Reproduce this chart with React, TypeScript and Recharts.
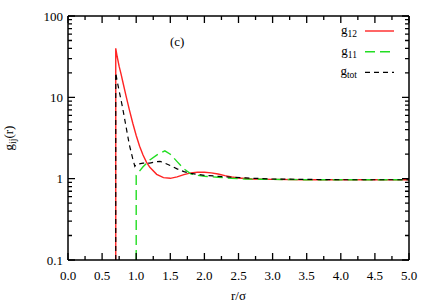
import { Legend, Line, LineChart, ReferenceDot, XAxis, YAxis } from "recharts";

// g12 (red)
const g12R = [0.7, 0.7, 0.72, 0.75, 0.78, 0.8, 0.85, 0.9, 0.95, 1.0, 1.05, 1.1, 1.15, 1.2, 1.3, 1.4, 1.5, 1.6, 1.7, 1.8, 1.9, 2.0, 2.1, 2.2, 2.3, 2.4, 2.5, 2.7, 3.0, 3.5, 4.0, 4.5, 5.0];
const g12V = [0.1, 40, 32, 24, 19, 16, 10.5, 7.0, 4.8, 3.4, 2.5, 1.95, 1.6, 1.38, 1.13, 1.03, 1.01, 1.05, 1.12, 1.18, 1.2, 1.2, 1.18, 1.14, 1.09, 1.05, 1.02, 0.99, 0.98, 0.97, 0.97, 0.97, 0.97];

// g11 (green)
const g11R = [1.0, 1.0, 1.1, 1.2, 1.3, 1.42, 1.5, 1.6, 1.7, 1.8, 1.9, 2.0, 2.2, 2.4, 2.6, 3.0, 3.5, 4.0, 4.5, 5.0];
const g11V = [0.1, 1.1, 1.4, 1.7, 1.95, 2.2, 2.0, 1.62, 1.32, 1.15, 1.1, 1.07, 1.04, 1.01, 0.99, 0.98, 0.97, 0.97, 0.97, 0.97];

// gtot (black)
const gtotR = [0.7, 0.7, 0.72, 0.75, 0.8, 0.85, 0.9, 0.95, 0.98, 1.0, 1.1, 1.2, 1.3, 1.35, 1.4, 1.5, 1.6, 1.7, 1.8, 2.0, 2.2, 2.4, 2.6, 3.0, 3.5, 4.0, 4.5, 5.0];
const gtotV = [0.1, 20, 16, 12, 7.5, 4.4, 2.6, 1.75, 1.42, 1.5, 1.55, 1.55, 1.62, 1.63, 1.58, 1.45, 1.32, 1.22, 1.16, 1.1, 1.07, 1.04, 1.02, 0.99, 0.98, 0.97, 0.97, 0.97];

const xMajor = [0, 0.5, 1, 1.5, 2, 2.5, 3, 3.5, 4, 4.5, 5];
const xMinor = [0.25, 0.75, 1.25, 1.75, 2.25, 2.75, 3.25, 3.75, 4.25, 4.75];
const yMajor = [0.1, 1, 10, 100];
const yMajorLabels = ["0.1", "1", "10", "100"];
const yMinor = [0.2, 0.3, 0.4, 0.5, 0.6, 0.7, 0.8, 0.9, 2, 3, 4, 5, 6, 7, 8, 9, 20, 30, 40, 50, 60, 70, 80, 90];

const FONT = "'Liberation Serif', 'DejaVu Serif', serif";
const W = 436;
const H = 305;
const M = { top: 15, right: 26, left: 0, bottom: 0 };
const Y_AXIS_W = 68;
const X_AXIS_H = 45;
// plot box size (the mirrored axes are 1px each)
const PLOT_H = H - M.top - 1 - X_AXIS_H;
const PLOT_W = W - M.right - 1 - Y_AXIS_W;

const toPoints = (r: number[], g: number[]) => r.map((x, i) => ({ r: x, g: g[i] }));

const series = [
  { key: "g12", sub: "12", color: "#ff2424", dash: undefined as string | undefined, width: 1.4, data: toPoints(g12R, g12V) },
  { key: "g11", sub: "11", color: "#22dd22", dash: "10 5", width: 1.4, data: toPoints(g11R, g11V) },
  { key: "gtot", sub: "tot", color: "#000000", dash: "5 4", width: 1.2, data: toPoints(gtotR, gtotV) },
];

const xTicks = [...xMajor, ...xMinor].sort((a, b) => a - b);
const yTicks = [...yMajor, ...yMinor].sort((a, b) => a - b);
const isMajorX = (v: number) => xMajor.some((m) => Math.abs(m - v) < 1e-9);
const yLabel = (v: number) => {
  const i = yMajor.findIndex((m) => Math.abs(m - v) < 1e-9);
  return i >= 0 ? yMajorLabels[i] : null;
};

// labels only; tick marks come from the mirrored axes
const BottomTick = (props: any) => {
  if (!isMajorX(props.payload.value)) return <g />;
  return (
    <text x={Number(props.x)} y={Number(props.y) + 20} textAnchor="middle" fontSize={13} fontFamily={FONT} fill="#000">
      {props.payload.value.toFixed(1)}
    </text>
  );
};

const LeftTick = (props: any) => {
  const label = yLabel(props.payload.value);
  if (!label) return <g />;
  return (
    <text x={Number(props.x) - 5} y={Number(props.y) + 4.5} textAnchor="end" fontSize={13} fontFamily={FONT} fill="#000">
      {label}
    </text>
  );
};

// top axis draws inward ticks on top and bottom edge
const TopTick = (props: any) => {
  const x = Number(props.x);
  const y = Number(props.y);
  const len = isMajorX(props.payload.value) ? 7 : 4;
  return <path d={`M${x},${y}V${y + len}M${x},${y + PLOT_H}V${y + PLOT_H - len}`} stroke="#000" strokeWidth={1.3} fill="none" />;
};

// right axis draws inward ticks on right and left edge
const RightTick = (props: any) => {
  const x = Number(props.x);
  const y = Number(props.y);
  const len = yLabel(props.payload.value) ? 7 : 4;
  return <path d={`M${x},${y}H${x - len}M${x - PLOT_W},${y}H${x - PLOT_W + len}`} stroke="#000" strokeWidth={1.3} fill="none" />;
};

const YTitle = ({ viewBox }: any) => {
  const cx = viewBox.x + 13;
  const cy = viewBox.y + viewBox.height / 2;
  return (
    <text transform={`translate(${cx},${cy}) rotate(-90)`} textAnchor="middle" fontSize={13} fontFamily={FONT} fill="#000">
      g<tspan fontSize={9.5} dy={3}>ij</tspan>
      <tspan dy={-3}>(r)</tspan>
    </text>
  );
};

const XTitle = ({ viewBox }: any) => (
  <text x={viewBox.x + viewBox.width / 2} y={viewBox.y + 40} textAnchor="middle" fontSize={13} fontFamily={FONT} fill="#000">
    r/σ
  </text>
);

const LegendBox = () => (
  <svg width={90} height={66}>
    {series.map((s, i) => {
      const y = 13 + i * 20.7;
      return (
        <g key={s.key}>
          <text x={37} y={y + 3} textAnchor="end" fontSize={13} fontFamily={FONT} fill="#000">
            g<tspan fontSize={9.5} dy={3}>{s.sub}</tspan>
          </text>
          <line x1={45} y1={y} x2={74} y2={y} stroke={s.color} strokeWidth={s.width} strokeDasharray={s.dash} />
        </g>
      );
    })}
  </svg>
);

const axisLine = { stroke: "#000", strokeWidth: 1.5 };

export default function App() {
  return (
    <div style={{ position: "absolute", left: 0, top: 0, background: "#fff" }}>
      <LineChart width={W} height={H} margin={M}>
        <XAxis xAxisId="b" dataKey="r" type="number" domain={[0, 5]} allowDataOverflow ticks={xTicks} interval={0} height={X_AXIS_H} tickSize={0} tickMargin={0} tickLine={false} tick={<BottomTick />} axisLine={axisLine} label={{ content: <XTitle /> }} />
        <XAxis xAxisId="t" orientation="top" dataKey="r" type="number" domain={[0, 5]} allowDataOverflow ticks={xTicks} interval={0} height={1} tickSize={0} tickMargin={0} tickLine={false} tick={<TopTick />} axisLine={axisLine} />
        <YAxis yAxisId="l" type="number" scale="log" domain={[0.1, 100]} allowDataOverflow ticks={yTicks} interval={0} width={Y_AXIS_W} tickSize={0} tickMargin={0} tickLine={false} tick={<LeftTick />} axisLine={axisLine} label={{ content: <YTitle /> }} />
        <YAxis yAxisId="rt" orientation="right" type="number" scale="log" domain={[0.1, 100]} allowDataOverflow ticks={yTicks} interval={0} width={1} tickSize={0} tickMargin={0} tickLine={false} tick={<RightTick />} axisLine={axisLine} />
        <Legend layout="vertical" align="center" verticalAlign="middle" content={<LegendBox />} wrapperStyle={{ left: 320, top: 18, width: 90, height: 66 }} />
        {/* invisible copy so the mirrored top/right axes have data */}
        <Line xAxisId="t" yAxisId="rt" data={series[0].data} dataKey="g" stroke="none" dot={false} activeDot={false} legendType="none" isAnimationActive={false} />
        {series.map((s) => (
          <Line key={s.key} xAxisId="b" yAxisId="l" data={s.data} dataKey="g" type="linear" stroke={s.color} strokeWidth={s.width} strokeDasharray={s.dash} dot={false} activeDot={false} isAnimationActive={false} />
        ))}
        <ReferenceDot xAxisId="b" yAxisId="l" x={1.6} y={49} r={0} fill="none" stroke="none" label={{ value: "(c)", position: "center", fontSize: 13, fontFamily: FONT, fill: "#000" }} />
      </LineChart>
    </div>
  );
}
